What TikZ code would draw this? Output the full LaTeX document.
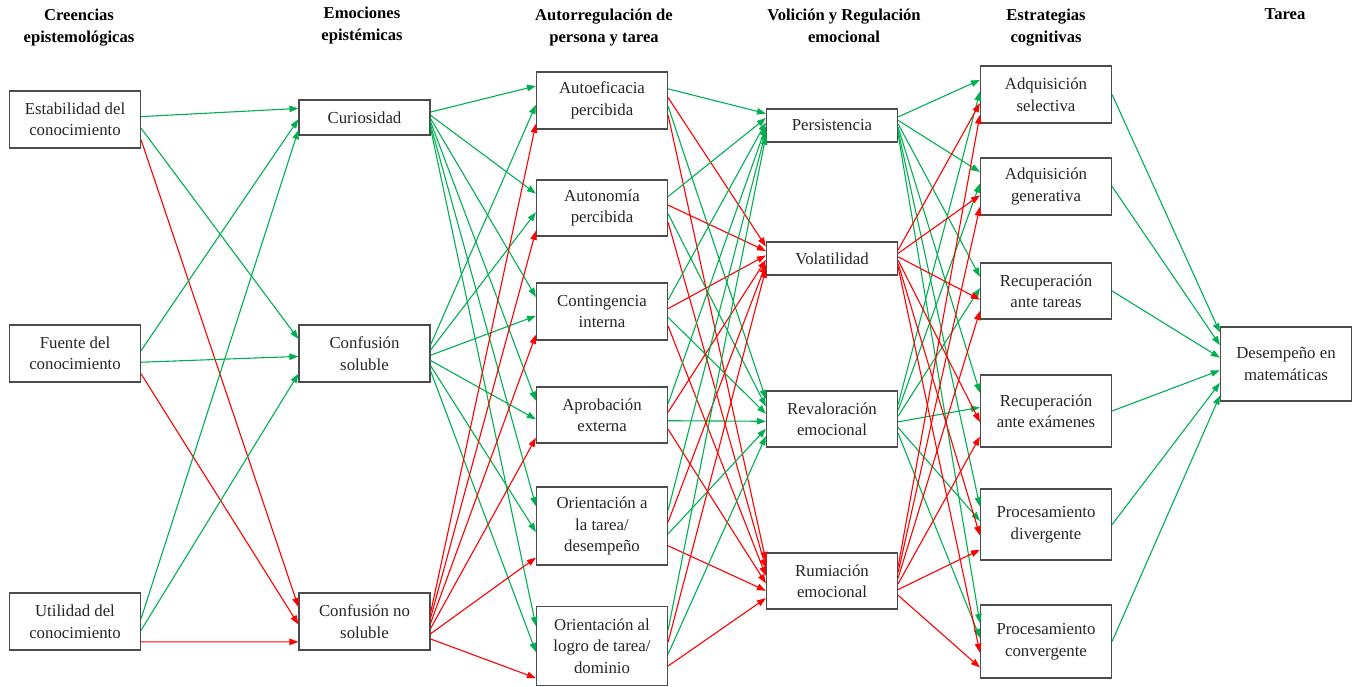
\documentclass[tikz,border=0pt]{standalone}
\usepackage{fontspec}
\setmainfont{Liberation Serif}
\usetikzlibrary{arrows.meta,calc}

\definecolor{posgreen}{RGB}{0,176,80}
\definecolor{negred}{RGB}{255,0,0}

\tikzset{
  box/.style={draw=black!70, line width=1.2pt, fill=white, minimum width=131pt,
    inner sep=2pt, align=center, text=black!85, font=\fontsize{16.8}{21.5}\selectfont},
  coltitle/.style={anchor=north, align=center, font=\bfseries\fontsize{16.6}{22}\selectfont},
  posarrow/.style={draw=posgreen, line width=1.1pt, -{Triangle[length=9pt,width=6.5pt]}},
  negarrow/.style={draw=negred, line width=1.1pt, -{Triangle[length=9pt,width=6.5pt]}}
}

\begin{document}
\begin{tikzpicture}[x=1pt, y=-1pt]
        \useasboundingbox (0,0) rectangle (1354,687);

        % Titles
        \node[coltitle] (t1) at (79,5) {Creencias\\epistemológicas};
        \node[coltitle] (t2) at (362,3) {Emociones\\epistémicas};
        \node[coltitle] (t3) at (604,5) {Autorregulación de\\persona y tarea};
        \node[coltitle] (t4) at (844,5) {Volición y Regulación\\emocional};
        \node[coltitle] (t5) at (1046,5) {Estrategias\\cognitivas};
        \node[coltitle] (t6) at (1285,5) {Tarea};

        % Creencias epistemologicas
        \node[box, minimum height=57pt] (est) at (75,119.5) {Estabilidad del\\conocimiento};
        \node[box, minimum height=57pt] (fue) at (75,353.5) {Fuente del\\conocimiento};
        \node[box, minimum height=57pt] (uti) at (75,621.5) {Utilidad del\\conocimiento};

        % Emociones epistemicas
        \node[box, minimum height=35pt] (cur) at (364.5,117.5) {Curiosidad};
        \node[box, minimum height=57pt] (csol) at (364.5,353.5) {Confusión\\soluble};
        \node[box, minimum height=57pt] (cnos) at (364.5,621.5) {Confusión no\\soluble};

        % Autorregulacion
        \node[box, minimum height=57pt] (aef) at (602,100.5) {Autoeficacia\\percibida};
        \node[box, minimum height=56pt] (aut) at (602,208) {Autonomía\\percibida};
        \node[box, minimum height=57pt] (con) at (602,311.5) {Contingencia\\interna};
        \node[box, minimum height=56pt] (apr) at (602,415) {Aprobación\\externa};
        \node[box, minimum height=78pt] (ota) at (602,526) {Orientación a\\la tarea/\\desempeño};
        \node[box, minimum height=79pt] (olo) at (602,646) {Orientación al\\logro de tarea/\\dominio};

        % Volicion y regulacion
        \node[box, minimum height=33pt] (per) at (832,125.5) {Persistencia};
        \node[box, minimum height=33pt] (vol) at (832,258.5) {Volatilidad};
        \node[box, minimum height=56pt] (rev) at (832,419) {Revaloración\\emocional};
        \node[box, minimum height=56pt] (rum) at (832,581) {Rumiación\\emocional};

        % Estrategias cognitivas
        \node[box, minimum height=57pt] (ase) at (1046,94.5) {Adquisición\\selectiva};
        \node[box, minimum height=57pt] (age) at (1046,186.5) {Adquisición\\generativa};
        \node[box, minimum height=56pt] (rta) at (1046,291) {Recuperación\\ante tareas};
        \node[box, minimum height=72pt] (rex) at (1046,411) {Recuperación\\ante exámenes};
        \node[box, minimum height=71pt] (pdi) at (1046,524.5) {Procesamiento\\divergente};
        \node[box, minimum height=73pt] (pco) at (1046,641.5) {Procesamiento\\convergente};

        % Tarea
        \node[box, minimum height=74pt] (des) at (1286,364) {Desempeño en\\matemáticas};

        % Creencias -> Emociones
        \foreach \s [count=\i] in {est,fue,uti}
          \foreach \t/\c [count=\j] in {cur/posarrow,csol/posarrow,cnos/negarrow} {
            \pgfmathsetmacro\fs{0.45+0.4*(\j-1)/2}
            \pgfmathsetmacro\ft{0.25+0.6*(\i-1)/2}
            \draw[\c] ($(\s.north east)!\fs!(\s.south east)$) -- ($(\t.north west)!\ft!(\t.south west)$);
          }

        % Emociones -> Autorregulacion
        \foreach \s/\c [count=\i] in {cur/posarrow,csol/posarrow,cnos/negarrow}
          \foreach \t [count=\j] in {aef,aut,con,apr,ota,olo} {
            \pgfmathsetmacro\fs{0.35+0.45*(\j-1)/5}
            \pgfmathsetmacro\ft{0.25+0.65*(\i-1)/2}
            \draw[\c] ($(\s.north east)!\fs!(\s.south east)$) -- ($(\t.north west)!\ft!(\t.south west)$);
          }

        % Autorregulacion -> Volicion
        \foreach \s [count=\i] in {aef,aut,con,apr,ota,olo}
          \foreach \t/\c [count=\j] in {per/posarrow,vol/negarrow,rev/posarrow,rum/negarrow} {
            \pgfmathsetmacro\fs{0.3+0.45*(\j-1)/3}
            \pgfmathsetmacro\ft{0.15+0.65*(\i-1)/5}
            \draw[\c] ($(\s.north east)!\fs!(\s.south east)$) -- ($(\t.north west)!\ft!(\t.south west)$);
          }

        % Volicion -> Estrategias
        \foreach \s/\c [count=\i] in {per/posarrow,rev/posarrow,vol/negarrow,rum/negarrow}
          \foreach \t [count=\j] in {ase,age,rta,rex,pdi,pco} {
            \pgfmathsetmacro\fs{0.25+0.5*(\j-1)/5}
            \pgfmathsetmacro\ft{0.25+0.6*(\i-1)/3}
            \draw[\c] ($(\s.north east)!\fs!(\s.south east)$) -- ($(\t.north west)!\ft!(\t.south west)$);
          }

        % Estrategias -> Tarea
        \foreach \s [count=\i] in {ase,age,rta,rex,pdi,pco} {
            \pgfmathsetmacro\ft{0.08+0.84*(\i-1)/5}
            \draw[posarrow] (\s.east) -- ($(des.north west)!\ft!(des.south west)$);
          }
\end{tikzpicture}
\end{document}
